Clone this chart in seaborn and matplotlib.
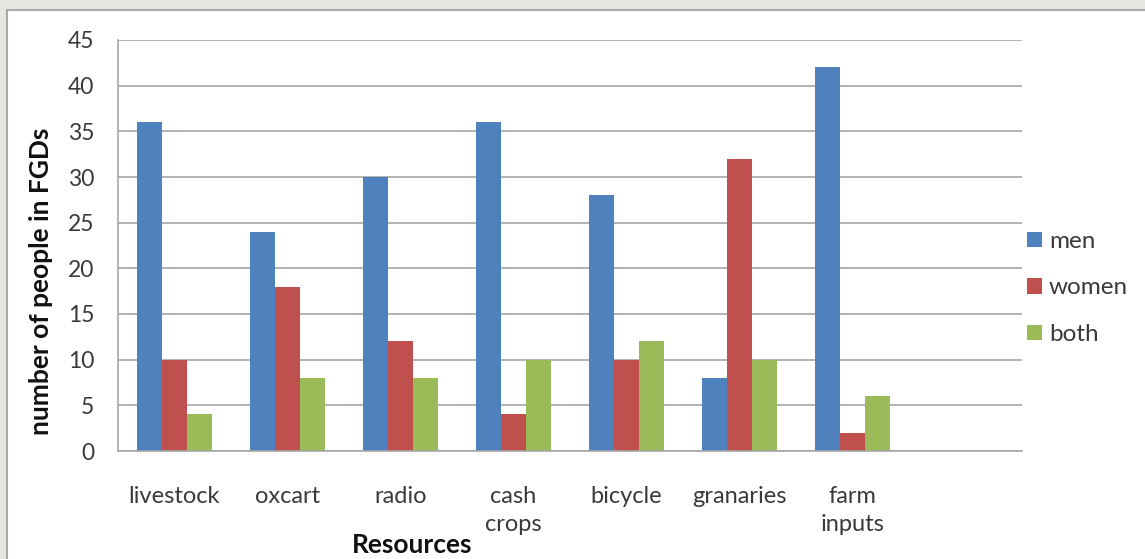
import pandas as pd
import seaborn as sns
import matplotlib.pyplot as plt
from matplotlib.patches import Rectangle

resources = ['livestock', 'oxcart', 'radio', 'cash\ncrops', 'bicycle', 'granaries', 'farm\ninputs']
men = [36, 24, 30, 36, 28, 8, 42]
women = [10, 18, 12, 4, 10, 32, 2]
both = [4, 8, 8, 10, 12, 10, 6]
groups = ['men', 'women', 'both']
colors = ['#4F81BD', '#C0504D', '#9BBB59']

d = pd.DataFrame({'Resources': resources * 3,
                  'count': men + women + both,
                  'group': [g for g in groups for _ in resources]})

sns.set_style('white')
plt.rcParams['font.family'] = ['Lato', 'DejaVu Sans']

fig = plt.figure(figsize=(11.45, 5.59), dpi=100, facecolor='#e8e6e2')
# white panel with thin border, behind the axes
fig.patches.append(Rectangle((7 / 1145, -0.05), 1.1, 1 - 10 / 559 + 0.05,
                             transform=fig.transFigure, facecolor='white',
                             edgecolor='#a9a9a9', linewidth=1.5, zorder=-10))

ax = fig.add_axes([118 / 1145, 1 - 451 / 559, (1022 - 118) / 1145, (451 - 40) / 559])
ax.set_facecolor('none')
sns.barplot(data=d, x='Resources', y='count', hue='group', order=resources + [' '],
            hue_order=groups, palette=colors, width=0.655, saturation=1,
            edgecolor='none', ax=ax)

ax.set_xlim(-0.5, 7.5)
ax.set_ylim(0, 45)
ax.set_yticks(range(0, 46, 5))
ax.yaxis.grid(True, color='#a6a6a6', linewidth=1.2)
ax.set_axisbelow(True)
for s in ['top', 'right']:
    ax.spines[s].set_visible(False)
for s in ['left', 'bottom']:
    ax.spines[s].set_color('#a6a6a6')
    ax.spines[s].set_linewidth(1.2)

tc = '#3a3a3a'
ax.set_xticks(range(8))
ax.set_xticklabels(resources + [''], fontsize=17, color=tc, va='top')
ax.set_xticks([i - 0.5 for i in range(9)], minor=True)
ax.tick_params(axis='x', which='major', length=0, pad=25)
ax.tick_params(axis='x', which='minor', length=6, color='#a6a6a6', width=1.2, direction='out')
ax.tick_params(axis='y', length=6, color='#a6a6a6', width=1.2, direction='out',
               labelsize=16.5, labelcolor=tc, pad=11)
for lbl in ax.get_xticklabels():
    lbl.set_linespacing(1.42)

ax.set_xlabel('')
ax.set_ylabel('')
fig.text(41 / 1145, 1 - 281 / 559, 'number of people in FGDs', fontsize=19,
         fontweight='bold', rotation=90, ha='center', va='center', color='#111111')
fig.text(412 / 1145, 1 - 545 / 559, 'Resources', fontsize=19, fontweight='bold',
         ha='center', va='center', color='#111111')

ax.legend(title=None, frameon=False, fontsize=17.5, loc='center left',
          bbox_to_anchor=(1027 / 1145, 1 - 288 / 559), bbox_transform=fig.transFigure,
          borderaxespad=0, borderpad=0, handlelength=0.6, handleheight=0.6,
          handletextpad=0.3, labelspacing=1.05, labelcolor=tc)

fig.savefig('out.png', dpi=100, facecolor=fig.get_facecolor())
